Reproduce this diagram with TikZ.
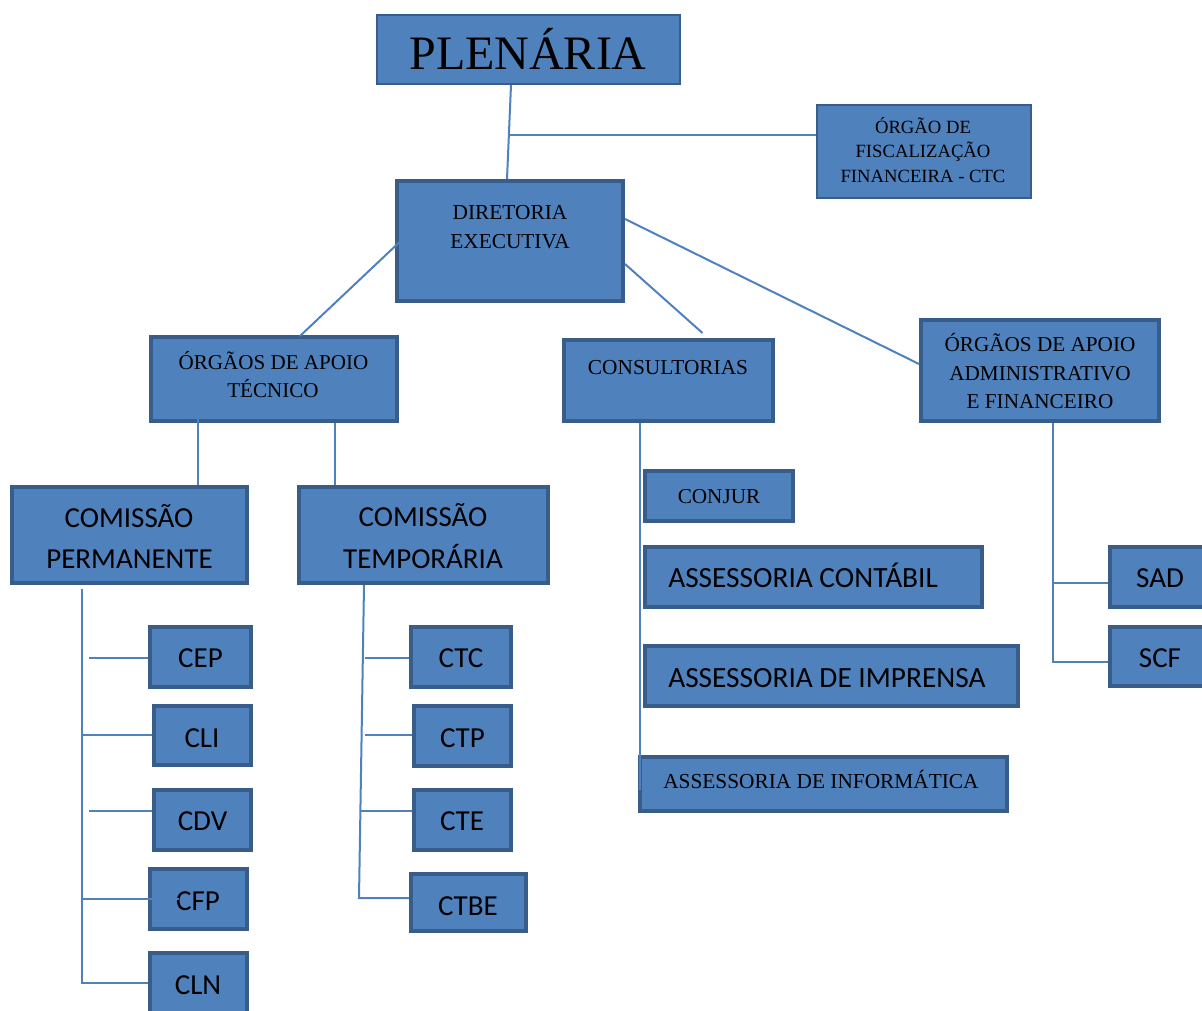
\documentclass[tikz,border=0pt]{standalone}
\usepackage{fontspec}
\setmainfont{Liberation Serif}
\newfontfamily\calfont{Carlito}
\usetikzlibrary{calc}
\definecolor{boxfill}{RGB}{79,129,189}
\definecolor{boxedge}{RGB}{56,93,138}
\definecolor{wirec}{RGB}{79,129,189}
\newcommand\mkbox[7]{%
  \pgfmathsetmacro\bxw{(#5-#3)*0.75-#7}%
  \pgfmathsetmacro\bxh{(#6-#4)*0.75-#7}%
  \node[#1, line width=#7pt, minimum width=\bxw pt, minimum height=\bxh pt] (#2) at ({(#3+#5)/2},{(#4+#6)/2}) {};}
\begin{document}
\begin{tikzpicture}[x=0.75pt,y=-0.75pt,
  thickbox/.style={draw=boxedge, fill=boxfill, rectangle, inner sep=0pt},
  thinbox/.style={draw=boxedge, fill=boxfill, rectangle, inner sep=0pt},
  wire/.style={draw=wirec, line width=1.5pt},
  stext/.style={anchor=base, inner sep=0pt, font=\fontsize{#1}{#1}\selectfont},
  ctext/.style={anchor=base, inner sep=0pt, font=\calfont\fontsize{#1}{#1}\selectfont}]
\useasboundingbox (0,0) rectangle (1202,1010);
\clip (0,0) rectangle (1202,1010);
% boxes
\mkbox{thinbox}{plen}{376}{14}{681}{85}{1.8}
\mkbox{thinbox}{fisc}{816}{104}{1032}{199}{1.8}
\mkbox{thickbox}{dir}{395}{179}{625}{303}{3}
\mkbox{thickbox}{oat}{149}{335}{399}{423}{3}
\mkbox{thickbox}{cons}{562}{338}{775}{423}{3}
\mkbox{thickbox}{oaf}{919}{318}{1161}{423}{3}
\mkbox{thickbox}{cperm}{10}{485}{249}{585}{3}
\mkbox{thickbox}{ctemp}{297}{485}{550}{585}{3}
\mkbox{thickbox}{conjur}{643}{469}{795}{523}{3}
\mkbox{thickbox}{acont}{643}{545}{984}{609}{3}
\mkbox{thickbox}{aimp}{643}{644}{1020}{708}{3}
\mkbox{thickbox}{ainf}{638}{755}{1009}{813}{3}
\mkbox{thickbox}{cep}{148}{625}{253}{689}{3}
\mkbox{thickbox}{cli}{152}{704}{253}{767}{3}
\mkbox{thickbox}{cdv}{152}{788}{253}{852}{3}
\mkbox{thickbox}{cfp}{148}{867}{249}{931}{3}
\mkbox{thickbox}{cln}{148}{951}{249}{1018}{3}
\mkbox{thickbox}{ctc}{409}{625}{513}{689}{3}
\mkbox{thickbox}{ctp}{412}{704}{513}{768}{3}
\mkbox{thickbox}{cte}{412}{788}{513}{852}{3}
\mkbox{thickbox}{ctbe}{409}{872}{528}{933}{3}
\mkbox{thickbox}{sad}{1108}{545}{1212}{609}{3}
\mkbox{thickbox}{scf}{1108}{625}{1212}{688}{3}
% texts
\node[stext=36] (tplen) at (528,69) {PLENÁRIA};
\node[stext=14] (tfis1) at (923,133) {ÓRGÃO DE};
\node[stext=14] (tfis2) at (923,157.5) {FISCALIZAÇÃO};
\node[stext=14] (tfis3) at (923,182) {FINANCEIRA - CTC};
\node[stext=16] (tdir1) at (510,219) {DIRETORIA};
\node[stext=16] (tdir2) at (510,248) {EXECUTIVA};
\node[stext=15.8] (toat1) at (273.5,369) {ÓRGÃOS DE APOIO};
\node[stext=15.8] (toat2) at (273,397) {TÉCNICO};
\node[stext=16] (tcons) at (668,374) {CONSULTORIAS};
\node[stext=15.9] (toaf1) at (1040,351.5) {ÓRGÃOS DE APOIO};
\node[stext=15.9] (toaf2) at (1040,380) {ADMINISTRATIVO};
\node[stext=15.9] (toaf3) at (1040,408) {E FINANCEIRO};
\node[stext=15.9] (tconjur) at (719,503) {CONJUR};
\node[stext=16, anchor=base west] (tainf) at (663,788) {ASSESSORIA DE INFORMÁTICA};
\node[ctext=22, anchor=base west] (tacont) at (668,587) {ASSESSORIA CONTÁBIL};
\node[ctext=22, anchor=base west] (taimp) at (668,687) {ASSESSORIA DE IMPRENSA};
\node[ctext=21.75] (tcp1) at (129,527) {COMISSÃO};
\node[ctext=21.75] (tcp2) at (129.5,568) {PERMANENTE};
\node[ctext=21.75] (tct1) at (423,526) {COMISSÃO};
\node[ctext=21.75] (tct2) at (423,568) {TEMPORÁRIA};
\node[ctext=21.75] (tcep) at (200.5,667) {CEP};
\node[ctext=21.75] (tcli) at (202,747) {CLI};
\node[ctext=21.75] (tcdv) at (202.5,830) {CDV};
\node[ctext=21.75] (tcfp) at (198,910) {CFP};
\node[ctext=21.75] (tcln) at (198,994) {CLN};
\node[ctext=21.75] (tctc) at (461,667) {CTC};
\node[ctext=21.75] (tctp) at (462.5,747) {CTP};
\node[ctext=21.75] (tcte) at (462,830) {CTE};
\node[ctext=21.75] (tctbe) at (468,915) {CTBE};
\node[ctext=21.75] (tsad) at (1160,587) {SAD};
\node[ctext=21.75] (tscf) at (1160,667) {SCF};
% connectors
\draw[wire] ($(plen.south)+(-17.5,0)$) -- coordinate[pos=0.532] (j1) ($(dir.north)+(-3,0)$);
\draw[wire] (j1) -- (j1 -| fisc.west);
\draw[wire] ($(dir.west)+(12,-6)$) -- ($(oat.north)+(26,1)$);
\coordinate (consTip) at ($(cons.north)+(34,-5)$);
\draw[wire] ($(dir.east)+(0,23)$) -- (consTip);
\draw[wire] ($(dir.east)+(0,-22)$) -- ($(oaf.west)+(0,-6.5)$);
\draw[wire] ($(oat.south)+(-76,-15)$) -- ($(cperm.north)+(68.5,0)$);
\draw[wire] ($(oat.south)+(61,0)$) -- ($(ctemp.north)+(-88.5,0)$);
\draw[wire] ($(cons.south)+(-28.5,0)$) -- ($(ainf.west)+(2,6)$);
\coordinate (oafv) at ($(oaf.south)+(13,0)$);
\draw[wire] (oafv) |- ($(scf.west)+(0,5.5)$);
\draw[wire] ($(sad.west)+(0,6)$) -| (oafv);
\coordinate (cpv) at ($(cperm.south)+(-47.5,4)$);
\draw[wire] (cpv) |- ($(cln.west)+(0,-2)$);
\draw[wire] ($(cli.west)+(0,-1)$) -| (cpv);
\coordinate (cfpE) at ($(cfp.west)+(31,0)$);
\draw[wire] (cfp.west -| cpv) -- (cfpE);
\coordinate (cepS) at (89,658);
\draw[wire] (cepS) -- (cepS -| cep.west);
\coordinate (cdvS) at (89,811);
\draw[wire] (cdvS) -- (cdvS -| cdv.west);
\coordinate (ctT) at ($(ctemp.south)+(-59.5,0)$);
\coordinate (ctB) at (359,898);
\draw[wire] (ctT) -- (ctB) -- (ctB -| ctbe.west);
\coordinate (ctcS) at (365,658);
\draw[wire] (ctcS) -- (ctcS -| ctc.west);
\coordinate (ctpS) at (365,735);
\draw[wire] (ctpS) -- (ctpS -| ctp.west);
\coordinate (cteS) at (360,811);
\draw[wire] (cteS) -- (cteS -| cte.west);
\end{tikzpicture}
\end{document}
